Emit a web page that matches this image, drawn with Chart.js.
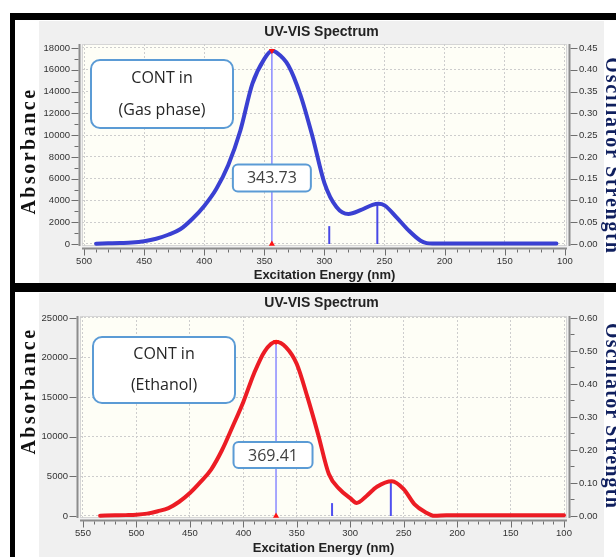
<!DOCTYPE html>
<html>
<head>
<meta charset="utf-8">
<script src="https://cdn.jsdelivr.net/npm/chart.js@4.4.1/dist/chart.umd.min.js"></script>
<style>
  html, body { margin: 0; padding: 0; width: 616px; height: 557px; overflow: hidden; background: #fff; }
  .abs { position: absolute; }
  #frame { left: 10px; top: 13px; width: 640px; height: 600px; background: #000; }
  .panel { left: 15px; width: 640px; background: #fff; }
  #p1 { top: 20px; height: 263px; }
  #p2 { top: 292px; height: 300px; }
  canvas { position: absolute; left: 39px; }
  #c1 { top: 21px; }
  #c2 { top: 293px; }
  .vlab { position: absolute; white-space: nowrap; line-height: 20px;
          font: bold 20px "Liberation Serif", "Times New Roman", serif; }
  .left { color: #111; letter-spacing: 2.5px; transform: translate(-50%, -50%) rotate(-90deg); }
  .right { color: #0f1f5e; transform: translate(-50%, -50%) rotate(90deg); }
</style>
</head>
<body>
<div id="frame" class="abs"></div>
<div id="p1" class="abs panel"></div>
<div id="p2" class="abs panel"></div>
<canvas id="c1" width="565" height="262"></canvas>
<canvas id="c2" width="565" height="264"></canvas>
<div class="vlab left" style="left:28px;top:151px">Absorbance</div>
<div class="vlab left" style="left:28px;top:391px">Absorbance</div>
<div class="vlab right" style="left:612px;top:156px;letter-spacing:1.8px">Oscillator Strength</div>
<div class="vlab right" style="left:612px;top:416px;letter-spacing:1.2px">Oscillator Strength</div>
<script>
// --- gas phase spectrum (wavelength nm -> absorbance) ---
const gasNm  = [490, 480, 470, 460, 450, 440, 430, 420, 410, 400, 390, 380, 370, 360, 350, 343.73, 340, 330, 320, 310, 300, 290, 280, 270, 260, 255, 250, 240, 230, 220, 215, 210, 200, 190, 180, 170, 160, 150, 140, 130, 120, 110, 107];
const gasAbs = [30, 60, 90, 130, 250, 480, 850, 1350, 2300, 3500, 5050, 7250, 10400, 14700, 17000, 17750, 17600, 16400, 13700, 9900, 5600, 3400, 2750, 3100, 3600, 3700, 3550, 2450, 1250, 300, 80, 40, 40, 40, 40, 40, 40, 40, 40, 40, 40, 40, 40];
const gasStickNm = [343.73, 296, 256];
const gasStickF  = [0.445, 0.041, 0.09];
const gasXTicks  = [500, 450, 400, 350, 300, 250, 200, 150, 100];
const gasYTicks  = [0, 2000, 4000, 6000, 8000, 10000, 12000, 14000, 16000, 18000];
const gasY2Ticks = [0, 0.05, 0.10, 0.15, 0.20, 0.25, 0.30, 0.35, 0.40, 0.45];

// --- ethanol spectrum ---
const ethNm  = [534, 520, 510, 500, 490, 480, 470, 460, 450, 440, 430, 420, 410, 400, 390, 380, 369.41, 360, 350, 340, 330, 320, 310, 300, 294, 285, 275, 261, 250, 240, 230, 221, 210, 200, 180, 160, 140, 120, 100];
const ethAbs = [40, 80, 110, 160, 300, 600, 1000, 1800, 2900, 4300, 5900, 8300, 11300, 14400, 18000, 20800, 22000, 21300, 19200, 15000, 10300, 5300, 3400, 2250, 1650, 2500, 3700, 4400, 3400, 1500, 500, 20, 80, 80, 80, 80, 80, 80, 80];
const ethStickNm = [369.41, 317, 262];
const ethStickF  = [0.527, 0.039, 0.103];
const ethXTicks  = [550, 500, 450, 400, 350, 300, 250, 200, 150, 100];
const ethYTicks  = [0, 5000, 10000, 15000, 20000, 25000];
const ethY2Ticks = [0, 0.10, 0.20, 0.30, 0.40, 0.50, 0.60];

function range(a, b, step) {
  const out = [];
  for (let v = a; v <= b + 1e-9; v += step) out.push(+v.toFixed(4));
  return out;
}

const FONT = 'Arial, "Liberation Sans", sans-serif';

function roundBox(ctx, x, y, w, h, r) {
  ctx.beginPath();
  ctx.moveTo(x + r, y);
  ctx.arcTo(x + w, y, x + w, y + h, r);
  ctx.arcTo(x + w, y + h, x, y + h, r);
  ctx.arcTo(x, y + h, x, y, r);
  ctx.arcTo(x, y, x + w, y, r);
  ctx.closePath();
  ctx.fillStyle = '#fff';
  ctx.fill();
  ctx.strokeStyle = '#5b9bd5';
  ctx.lineWidth = 2;
  ctx.stroke();
}

// plot background, annotation boxes, axis lines with major/minor ticks
const specPlugin = {
  id: 'spec',
  beforeDraw(chart) {
    const { ctx, chartArea: a, width, height } = chart;
    ctx.save();
    ctx.fillStyle = '#f0f0f0';
    ctx.fillRect(0, 0, width, height);
    ctx.fillStyle = '#fefef6';
    ctx.fillRect(a.left, a.top, a.right - a.left, a.bottom - a.top);
    ctx.strokeStyle = '#d6d6d6';
    ctx.lineWidth = 1;
    ctx.strokeRect(a.left + 0.5, a.top + 0.5, a.right - a.left - 1, a.bottom - a.top - 1);
    ctx.restore();
  },
  afterDatasetsDraw(chart, args, o) {
    const { ctx, chartArea: a, scales } = chart;
    ctx.save();
    // "CONT in" note
    const n = o.note;
    const bx = a.left + n.dx, by = a.top + n.dy;
    roundBox(ctx, bx, by, n.w, n.h, 9);
    ctx.fillStyle = '#262626';
    ctx.font = '16px "Open Sans", sans-serif';
    ctx.textAlign = 'center';
    ctx.textBaseline = 'middle';
    n.lines.forEach((t, i) => ctx.fillText(t, bx + n.w / 2, by + n.ly[i]));
    // peak wavelength label
    const p = o.peak;
    const cx = scales.x.getPixelForValue(p.nm) + p.dx;
    const cy = a.top + (a.bottom - a.top) * p.frac;
    roundBox(ctx, cx - p.w / 2, cy - p.h / 2, p.w, p.h, 5);
    ctx.fillStyle = '#404040';
    ctx.fillText(p.text, cx, cy + 1);
    ctx.restore();
  },
  afterDraw(chart, args, o) {
    const { ctx, chartArea: a, scales } = chart;
    const L = a.left - 2.5, R = a.right + 2.5, B = a.bottom + 2.5;
    ctx.save();
    ctx.strokeStyle = '#8c8c8c';
    ctx.lineWidth = 2;
    ctx.beginPath();
    ctx.moveTo(L, a.top); ctx.lineTo(L, a.bottom);
    ctx.moveTo(R, a.top); ctx.lineTo(R, a.bottom);
    ctx.moveTo(a.left, B); ctx.lineTo(a.right, B);
    ctx.stroke();
    ctx.strokeStyle = '#6e6e6e';
    ctx.lineWidth = 1;
    ctx.beginPath();
    const hTick = (vals, len) => vals.forEach(v => {
      const x = Math.round(scales.x.getPixelForValue(v)) + 0.5;
      ctx.moveTo(x, B + 1); ctx.lineTo(x, B + 1 + len);
    });
    const yTick = (scale, vals, x0, dir, len) => vals.forEach(v => {
      const y = Math.round(scale.getPixelForValue(v)) + 0.5;
      ctx.moveTo(x0, y); ctx.lineTo(x0 + dir * len, y);
    });
    hTick(o.xMajor, 6); hTick(o.xMinor, 3);
    yTick(scales.y, o.yMajor, L - 1, -1, 7); yTick(scales.y, o.yMinor, L - 1, -1, 4);
    yTick(scales.y2, o.y2Major, R + 1, 1, 7); yTick(scales.y2, o.y2Minor, R + 1, 1, 4);
    ctx.stroke();
    ctx.restore();
  }
};

function makeChart(id, s) {
  const peakAbs = s.abs[s.nm.indexOf(s.stickNm[0])];
  const markers = {
    data: [{ x: s.stickNm[0], y: 0 }, { x: s.stickNm[0], y: peakAbs }],
    showLine: false, pointStyle: 'triangle', pointRotation: [0, 180],
    pointRadius: 3.5, pointBackgroundColor: '#ff1414', pointBorderWidth: 0, clip: false
  };
  const curve = {
    data: s.nm.map((x, i) => ({ x, y: s.abs[i] })),
    showLine: true, borderColor: s.color, borderWidth: 4, pointRadius: 0,
    tension: 0.4, cubicInterpolationMode: 'monotone', borderCapStyle: 'round', borderJoinStyle: 'round'
  };
  const sticks = s.stickNm.map((x, i) => ({
    data: [{ x, y: 0 }, { x, y: s.stickF[i] }], yAxisID: 'y2',
    showLine: true, pointRadius: 0,
    borderColor: i === 0 ? '#8a8aff' : s.stickColor, borderWidth: i === 0 ? 1.5 : 2
  }));
  const tickFont = { family: FONT, size: 9.5 };
  const setTicks = arr => sc => { sc.ticks = arr.map(v => ({ value: v })); };

  return new Chart(document.getElementById(id), {
    type: 'scatter',
    data: { datasets: [markers, curve, ...sticks] },
    plugins: [specPlugin],
    options: {
      responsive: false, animation: false, events: [],
      layout: { padding: 0 },
      plugins: {
        legend: { display: false },
        tooltip: { enabled: false },
        title: {
          display: true, text: 'UV-VIS Spectrum', color: '#222',
          font: { family: FONT, size: 14, weight: 'bold', lineHeight: 1.2 },
          padding: { top: s.titleTop, bottom: 23 - 16.8 - s.titleTop }
        },
        spec: {
          note: s.note, peak: s.peak,
          xMajor: s.xTicks, xMinor: s.xMinor,
          yMajor: s.yTicks, yMinor: s.yMinor,
          y2Major: s.y2Ticks, y2Minor: s.y2Minor
        }
      },
      scales: {
        x: {
          type: 'linear', reverse: true, min: s.xMin, max: s.xMax,
          afterBuildTicks: setTicks(s.xTicks),
          afterFit: sc => { sc.height = s.bottomH; },
          grid: { color: '#cdcdcd', drawTicks: false },
          border: { display: false, dash: [2, 2] },
          ticks: { font: tickFont, color: '#333', padding: 10, autoSkip: false, maxRotation: 0 },
          title: {
            display: true, text: 'Excitation Energy (nm)', color: '#222',
            font: { family: FONT, size: 13, weight: 'bold', lineHeight: 1.2 },
            padding: { top: 0, bottom: s.xTitlePad }
          }
        },
        y: {
          min: s.yMin, max: s.yMax,
          afterBuildTicks: setTicks(s.yTicks),
          afterFit: sc => { sc.width = s.leftW; },
          grid: { color: '#cdcdcd', drawTicks: false },
          border: { display: false, dash: [2, 2] },
          ticks: { font: tickFont, color: '#333', padding: 12, callback: v => String(v) }
        },
        y2: {
          position: 'right', min: s.y2Min, max: s.y2Max,
          afterBuildTicks: setTicks(s.y2Ticks),
          afterFit: sc => { sc.width = s.rightW; },
          grid: { drawOnChartArea: false, drawTicks: false },
          border: { display: false },
          ticks: { font: tickFont, color: '#333', padding: 12, callback: v => v.toFixed(2) }
        }
      }
    }
  });
}

makeChart('c1', {
  nm: gasNm, abs: gasAbs, stickNm: gasStickNm, stickF: gasStickF,
  color: '#3a40d2', stickColor: '#4848e6',
  xTicks: gasXTicks, xMinor: range(100, 500, 10),
  yTicks: gasYTicks, yMinor: range(1000, 17000, 2000),
  y2Ticks: gasY2Ticks, y2Minor: [],
  xMin: 98.2, xMax: 501.7, yMin: -184, yMax: 18367, y2Min: -0.0046, y2Max: 0.4592,
  leftW: 43, rightW: 37, bottomH: 37, titleTop: 3, xTitlePad: 0,
  note: { dx: 9, dy: 16, w: 142, h: 68, lines: ['CONT in', '(Gas phase)'], ly: [18, 50] },
  peak: { nm: gasStickNm[0], text: '343.73', dx: 0, frac: 0.663, w: 78, h: 27 }
});

makeChart('c2', {
  nm: ethNm, abs: ethAbs, stickNm: ethStickNm, stickF: ethStickF,
  color: '#ec1c24', stickColor: '#5050f0',
  xTicks: ethXTicks, xMinor: range(100, 550, 10),
  yTicks: ethYTicks, yMinor: [],
  y2Ticks: ethY2Ticks, y2Minor: range(0.05, 0.55, 0.1),
  xMin: 97.2, xMax: 552.8, yMin: -253, yMax: 25252, y2Min: -0.0061, y2Max: 0.606,
  leftW: 41, rightW: 37, bottomH: 39, titleTop: 2, xTitlePad: 1,
  note: { dx: 13, dy: 21, w: 142, h: 66, lines: ['CONT in', '(Ethanol)'], ly: [17, 48] },
  peak: { nm: ethStickNm[0], text: '369.41', dx: -3, frac: 0.688, w: 79, h: 26 }
});
</script>
</body>
</html>
